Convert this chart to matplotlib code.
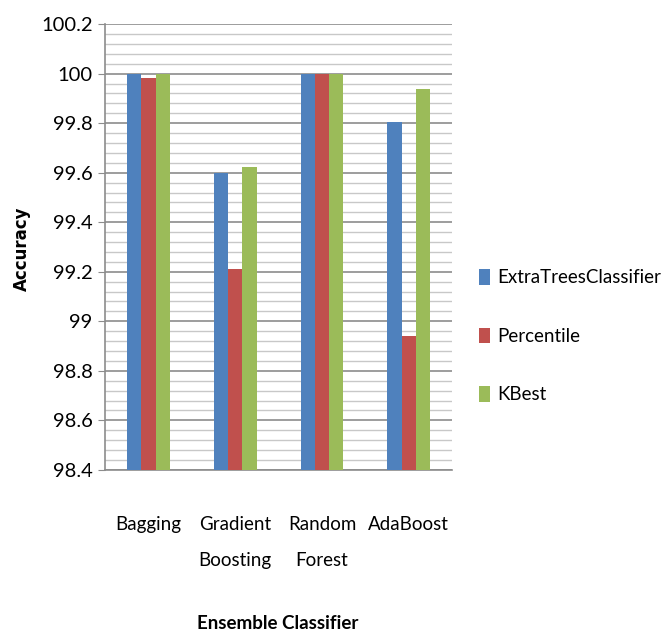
import numpy as np
import matplotlib
matplotlib.use("Agg")
import matplotlib.pyplot as plt
from matplotlib.ticker import MultipleLocator

categories = ["Bagging", "Gradient\nBoosting", "Random\nForest", "AdaBoost"]
series = ["ExtraTreesClassifier", "Percentile", "KBest"]
extra_trees = [100.0, 99.60, 100.0, 99.806]
percentile = [99.984, 99.21, 100.0, 98.94]
kbest = [100.0, 99.624, 100.0, 99.937]
colors = ["#4f81bd", "#c0504d", "#9bbb59"]

plt.rcParams['font.family'] = ['Lato', 'DejaVu Sans']

fig = plt.figure(figsize=(6.61, 6.35), dpi=100)
ax = fig.add_axes([0.159, 0.260, 0.525, 0.702])

x = np.arange(len(categories))
w = 0.165
for i, (vals, name) in enumerate(zip([extra_trees, percentile, kbest], series)):
    ax.bar(x + (i - 1) * w, np.array(vals) - 98.4, width=w, bottom=98.4,
           color=colors[i], label=name, zorder=3)

ax.set_xlim(-0.5, len(categories) - 0.5)
ax.set_ylim(98.4, 100.2)
ax.yaxis.set_minor_locator(MultipleLocator(0.04))
ax.set_yticks(np.arange(98.4, 100.21, 0.2))
ax.set_yticklabels(["98.4", "98.6", "98.8", "99", "99.2", "99.4", "99.6", "99.8", "100", "100.2"])
ax.grid(axis='y', which='major', color='#8c8c8c', linewidth=1.2, zorder=0)
ax.grid(axis='y', which='minor', color='#c8c8c8', linewidth=1.0, zorder=0)

ax.set_xticks(x)
ax.set_xticklabels(categories, fontsize=13.5, linespacing=2.4, va='top')
ax.tick_params(axis='x', length=0, pad=33)
ax.tick_params(axis='y', which='major', length=5, color='#8c8c8c', labelsize=14.5, pad=4)
ax.tick_params(axis='y', which='minor', length=0)

for s in ['top', 'right']:
    ax.spines[s].set_visible(False)
ax.spines['left'].set_color('#8c8c8c')
ax.spines['bottom'].set_color('#8c8c8c')
ax.spines['left'].set_linewidth(1.2)
ax.spines['bottom'].set_linewidth(1.2)

fig.text(0.033, 0.609, "Accuracy", rotation=90, fontsize=12, fontweight='heavy',
         ha='center', va='center', family=['DejaVu Sans'])
fig.text(0.42, 0.004, "Ensemble Classifier", fontsize=13.5, fontweight='bold',
         ha='center', va='bottom')

ax.legend(loc='center left', bbox_to_anchor=(1.03, 0.30), frameon=False,
          fontsize=13.5, handlelength=0.55, handleheight=0.9, handletextpad=0.4,
          labelspacing=2.2)

fig.savefig("out.png", dpi=100)
